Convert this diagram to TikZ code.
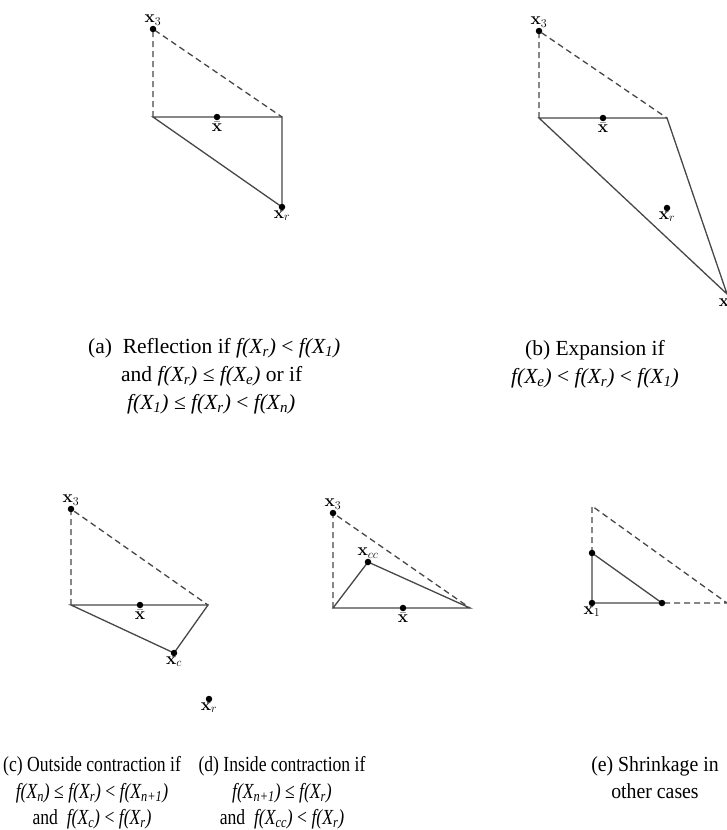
\documentclass[tikz,border=0pt]{standalone}
\usepackage[no-math]{fontspec}
\setmainfont{Liberation Serif}
\usepackage{graphicx}
\definecolor{linegray}{HTML}{474747}
\newcommand{\fX}[1]{{\itshape f(X\textsubscript{#1})}}
\newcommand{\cond}[1]{\scalebox{0.82}[1]{#1}}
\newcommand{\condw}[1]{\scalebox{0.92}[1]{#1}}
\tikzset{
  edge/.style={draw=linegray, line width=1.3pt},
  dashedge/.style={edge, dash pattern=on 6pt off 4pt},
  pt/.style={circle, fill=black, inner sep=0pt, minimum size=6.5pt},
  lbl/.style={inner sep=0.5pt, font=\fontsize{18}{18}\selectfont},
  capw/.style={inner sep=0pt, anchor=base west, font=\fontsize{21.5}{26}\selectfont},
  capc/.style={inner sep=0pt, anchor=base, font=\fontsize{21.5}{26}\selectfont}
}
\begin{document}
\begin{tikzpicture}[x=1pt,y=-1pt]
\useasboundingbox (0,0) rectangle (726,830);
% ---------- (a) reflection
\coordinate (a3) at (153,29);
\coordinate (aL) at (153,117);
\coordinate (aR) at (282,117);
\coordinate (aM) at (217,117);
\coordinate (ar) at (282,207);
\draw[dashedge] (aL) -- (a3) -- (aR);
\draw[edge] (aR) -- (aL) -- (ar) -- cycle;
\node[pt] (da3) at (a3) {};
\node[pt] (daM) at (aM) {};
\node[pt] (dar) at (ar) {};
\node[lbl, anchor=south] (la3) at ([yshift=3pt]a3) {$\mathbf{x}_3$};
\node[lbl, anchor=north] (laM) at ([yshift=-4pt]aM) {$\bar{\mathbf{x}}$};
\node[lbl, anchor=north] (lar) at ([yshift=-3pt]ar) {$\mathbf{x}_r$};
% ---------- (b) expansion
\coordinate (b3) at (539,31);
\coordinate (bL) at (539,118);
\coordinate (bR) at (667,118);
\coordinate (bM) at (603,118);
\coordinate (br) at (667,208);
\coordinate (be) at (727,294);
\draw[dashedge] (bL) -- (b3) -- (bR);
\draw[edge] (bR) -- (bL) -- (be) -- cycle;
\node[pt] (db3) at (b3) {};
\node[pt] (dbM) at (bM) {};
\node[pt] (dbr) at (br) {};
\node[lbl, anchor=south] (lb3) at ([yshift=3pt]b3) {$\mathbf{x}_3$};
\node[lbl, anchor=north] (lbM) at ([yshift=-4pt]bM) {$\bar{\mathbf{x}}$};
\node[lbl, anchor=north] (lbr) at ([yshift=-3pt]br) {$\mathbf{x}_r$};
\node[lbl, anchor=north] (lbe) at ([yshift=-4pt]be) {$\mathbf{x}_e$};
% ---------- (c) outside contraction
\coordinate (c3) at (71,509);
\coordinate (cL) at (71,605);
\coordinate (cR) at (208,605);
\coordinate (cM) at (140,605);
\coordinate (cc) at (174,653);
\coordinate (cr) at (209,699);
\draw[dashedge] (cL) -- (c3) -- (cR);
\draw[edge] (cR) -- (cL) -- (cc) -- cycle;
\node[pt] (dc3) at (c3) {};
\node[pt] (dcM) at (cM) {};
\node[pt] (dcc) at (cc) {};
\node[pt] (dcr) at (cr) {};
\node[lbl, anchor=south] (lc3) at ([yshift=3pt]c3) {$\mathbf{x}_3$};
\node[lbl, anchor=north] (lcM) at ([yshift=-4pt]cM) {$\bar{\mathbf{x}}$};
\node[lbl, anchor=north] (lcc) at ([yshift=-3pt]cc) {$\mathbf{x}_c$};
\node[lbl, anchor=north] (lcr) at ([yshift=-3pt]cr) {$\mathbf{x}_r$};
% ---------- (d) inside contraction
\coordinate (d3) at (333,513);
\coordinate (dL) at (333,608);
\coordinate (dR) at (470,608);
\coordinate (dM) at (403,608);
\coordinate (dcc) at (368,562);
\draw[dashedge] (dL) -- (d3) -- (dR);
\draw[edge] (dR) -- (dL) -- (dcc) -- cycle;
\node[pt] (dd3) at (d3) {};
\node[pt] (ddM) at (dM) {};
\node[pt] (ddcc) at (dcc) {};
\node[lbl, anchor=south] (ld3) at ([yshift=3pt]d3) {$\mathbf{x}_3$};
\node[lbl, anchor=north] (ldM) at ([yshift=-4pt]dM) {$\bar{\mathbf{x}}$};
\node[lbl, anchor=south] (ldcc) at ([yshift=3pt]dcc) {$\mathbf{x}_{cc}$};
% ---------- (e) shrinkage
\coordinate (eT) at (592,506);
\coordinate (eS) at (592,553);
\coordinate (e1) at (592,603);
\coordinate (eR) at (662,603);
\coordinate (eE) at (727,603);
\draw[dashedge] (eS) -- (eT) -- (eE) -- (eR);
\draw[edge] (eS) -- (e1) -- (eR) -- cycle;
\node[pt] (deS) at (eS) {};
\node[pt] (de1) at (e1) {};
\node[pt] (deR) at (eR) {};
\node[lbl, anchor=north] (le1) at ([yshift=-3pt]e1) {$\mathbf{x}_1$};
% ---------- captions
\node[capw] (ca1) at (88,353) {(a)\ \ Reflection if \fX{r} < \fX{1}};
\node[capw] (ca2) at (121,381) {and \fX{r} ≤ \fX{e} or if};
\node[capw] (ca3) at (127,409) {\fX{1} ≤ \fX{r} < \fX{n}};
\node[capc] (cb1) at (595,355) {(b) Expansion if};
\node[capc] (cb2) at (595,383) {\fX{e} < \fX{r} < \fX{1}};
\node[capc] (cc1) at (92,771) {\cond{(c) Outside contraction if}};
\node[capc] (cc2) at (92,798) {\cond{\fX{n} ≤ \fX{r} < \fX{n+1}}};
\node[capc] (cc3) at (92,824) {\cond{and\ \ \fX{c} < \fX{r}}};
\node[capc] (cd1) at (282,771) {\cond{(d) Inside contraction if}};
\node[capc] (cd2) at (282,798) {\cond{\fX{n+1} ≤ \fX{r}}};
\node[capc] (cd3) at (282,824) {\cond{and\ \ \fX{cc} < \fX{r}}};
\node[capc] (ce1) at (655,771) {\condw{(e) Shrinkage in}};
\node[capc] (ce2) at (655,798) {\condw{other cases}};
\end{tikzpicture}
\end{document}
